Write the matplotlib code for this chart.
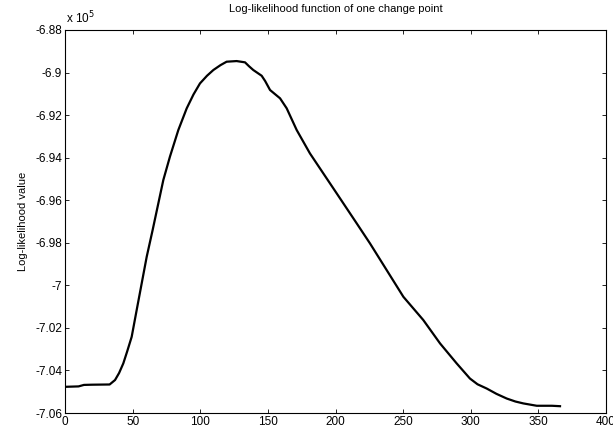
import matplotlib
matplotlib.use("Agg")
import matplotlib.pyplot as plt
from matplotlib.ticker import FuncFormatter

plt.rcParams['font.family'] = ['Liberation Sans', 'DejaVu Sans']

# Change point position
change_point = [0, 10, 14, 20, 33, 37, 40, 43.1, 46, 49.3, 53.0, 56.7, 60.4, 64.8, 69.0,
                72.7, 77.6, 83.8, 90.0, 95, 99.8, 105, 109.7, 115, 119.5, 126.9, 133.1,
                136, 139.2, 145.4, 148, 151.6, 155, 159.0, 163.9, 171.3, 181.1, 191.0,
                200.9, 215.7, 225.5, 237.8, 250.2, 264.9, 277.3, 289.6, 299.4, 305,
                311.8, 319, 326.6, 333, 338.9, 348.8, 360, 366]
# Log-likelihood value in units of 1e5
loglik_e5 = [-7.0477, -7.0475, -7.0468, -7.0467, -7.0466, -7.0445, -7.0412, -7.0367,
             -7.0310, -7.0242, -7.0116, -6.9991, -6.9866, -6.9740, -6.9615, -6.9505,
             -6.9395, -6.9270, -6.9168, -6.9103, -6.9051, -6.9015, -6.8988, -6.8965,
             -6.8949, -6.8946, -6.8952, -6.8970, -6.8988, -6.9015, -6.9040, -6.9082,
             -6.9100, -6.9121, -6.9168, -6.9270, -6.9380, -6.9474, -6.9568, -6.9709,
             -6.9803, -6.9928, -7.0054, -7.0163, -7.0273, -7.0367, -7.0438, -7.0465,
             -7.0485, -7.0510, -7.0532, -7.0546, -7.0555, -7.0566, -7.0566, -7.0568]
y_ticks_e5 = [-7.06, -7.04, -7.02, -7.0, -6.98, -6.96, -6.94, -6.92, -6.9, -6.88]
x_ticks = [0, 50, 100, 150, 200, 250, 300, 350, 400]

scale = 1e5
W, H = 613, 434
fig = plt.figure(figsize=(W / 100, H / 100), dpi=100)
ax = fig.add_axes([65 / W, 1 - 413 / H, (606 - 65) / W, (413 - 30) / H])

ax.plot(change_point, [v * scale for v in loglik_e5], color='black', lw=1.6,
        solid_joinstyle='round')

ax.set_xlim(0, 400)
ax.set_ylim(y_ticks_e5[0] * scale, y_ticks_e5[-1] * scale)
ax.set_xticks(x_ticks)
ax.set_yticks([v * scale for v in y_ticks_e5])
ax.yaxis.set_major_formatter(FuncFormatter(lambda v, p: f"{v / scale:g}"))

for s in ax.spines.values():
    s.set_linewidth(0.8)
    s.set_color('black')
ax.tick_params(direction='in', length=3, width=0.6, top=True, right=True,
               labelsize=8.5, colors='black', pad=2)

ax.set_title('Log-likelihood function of one change point', fontsize=8, pad=13)
ax.set_ylabel('Log-likelihood value', fontsize=8, labelpad=5)
fig.text(66 / W, 1 - 23 / H, 'x 10$^{5}$', fontsize=8.5, ha='left', va='baseline')

fig.savefig('out.png', dpi=100, facecolor='white')
